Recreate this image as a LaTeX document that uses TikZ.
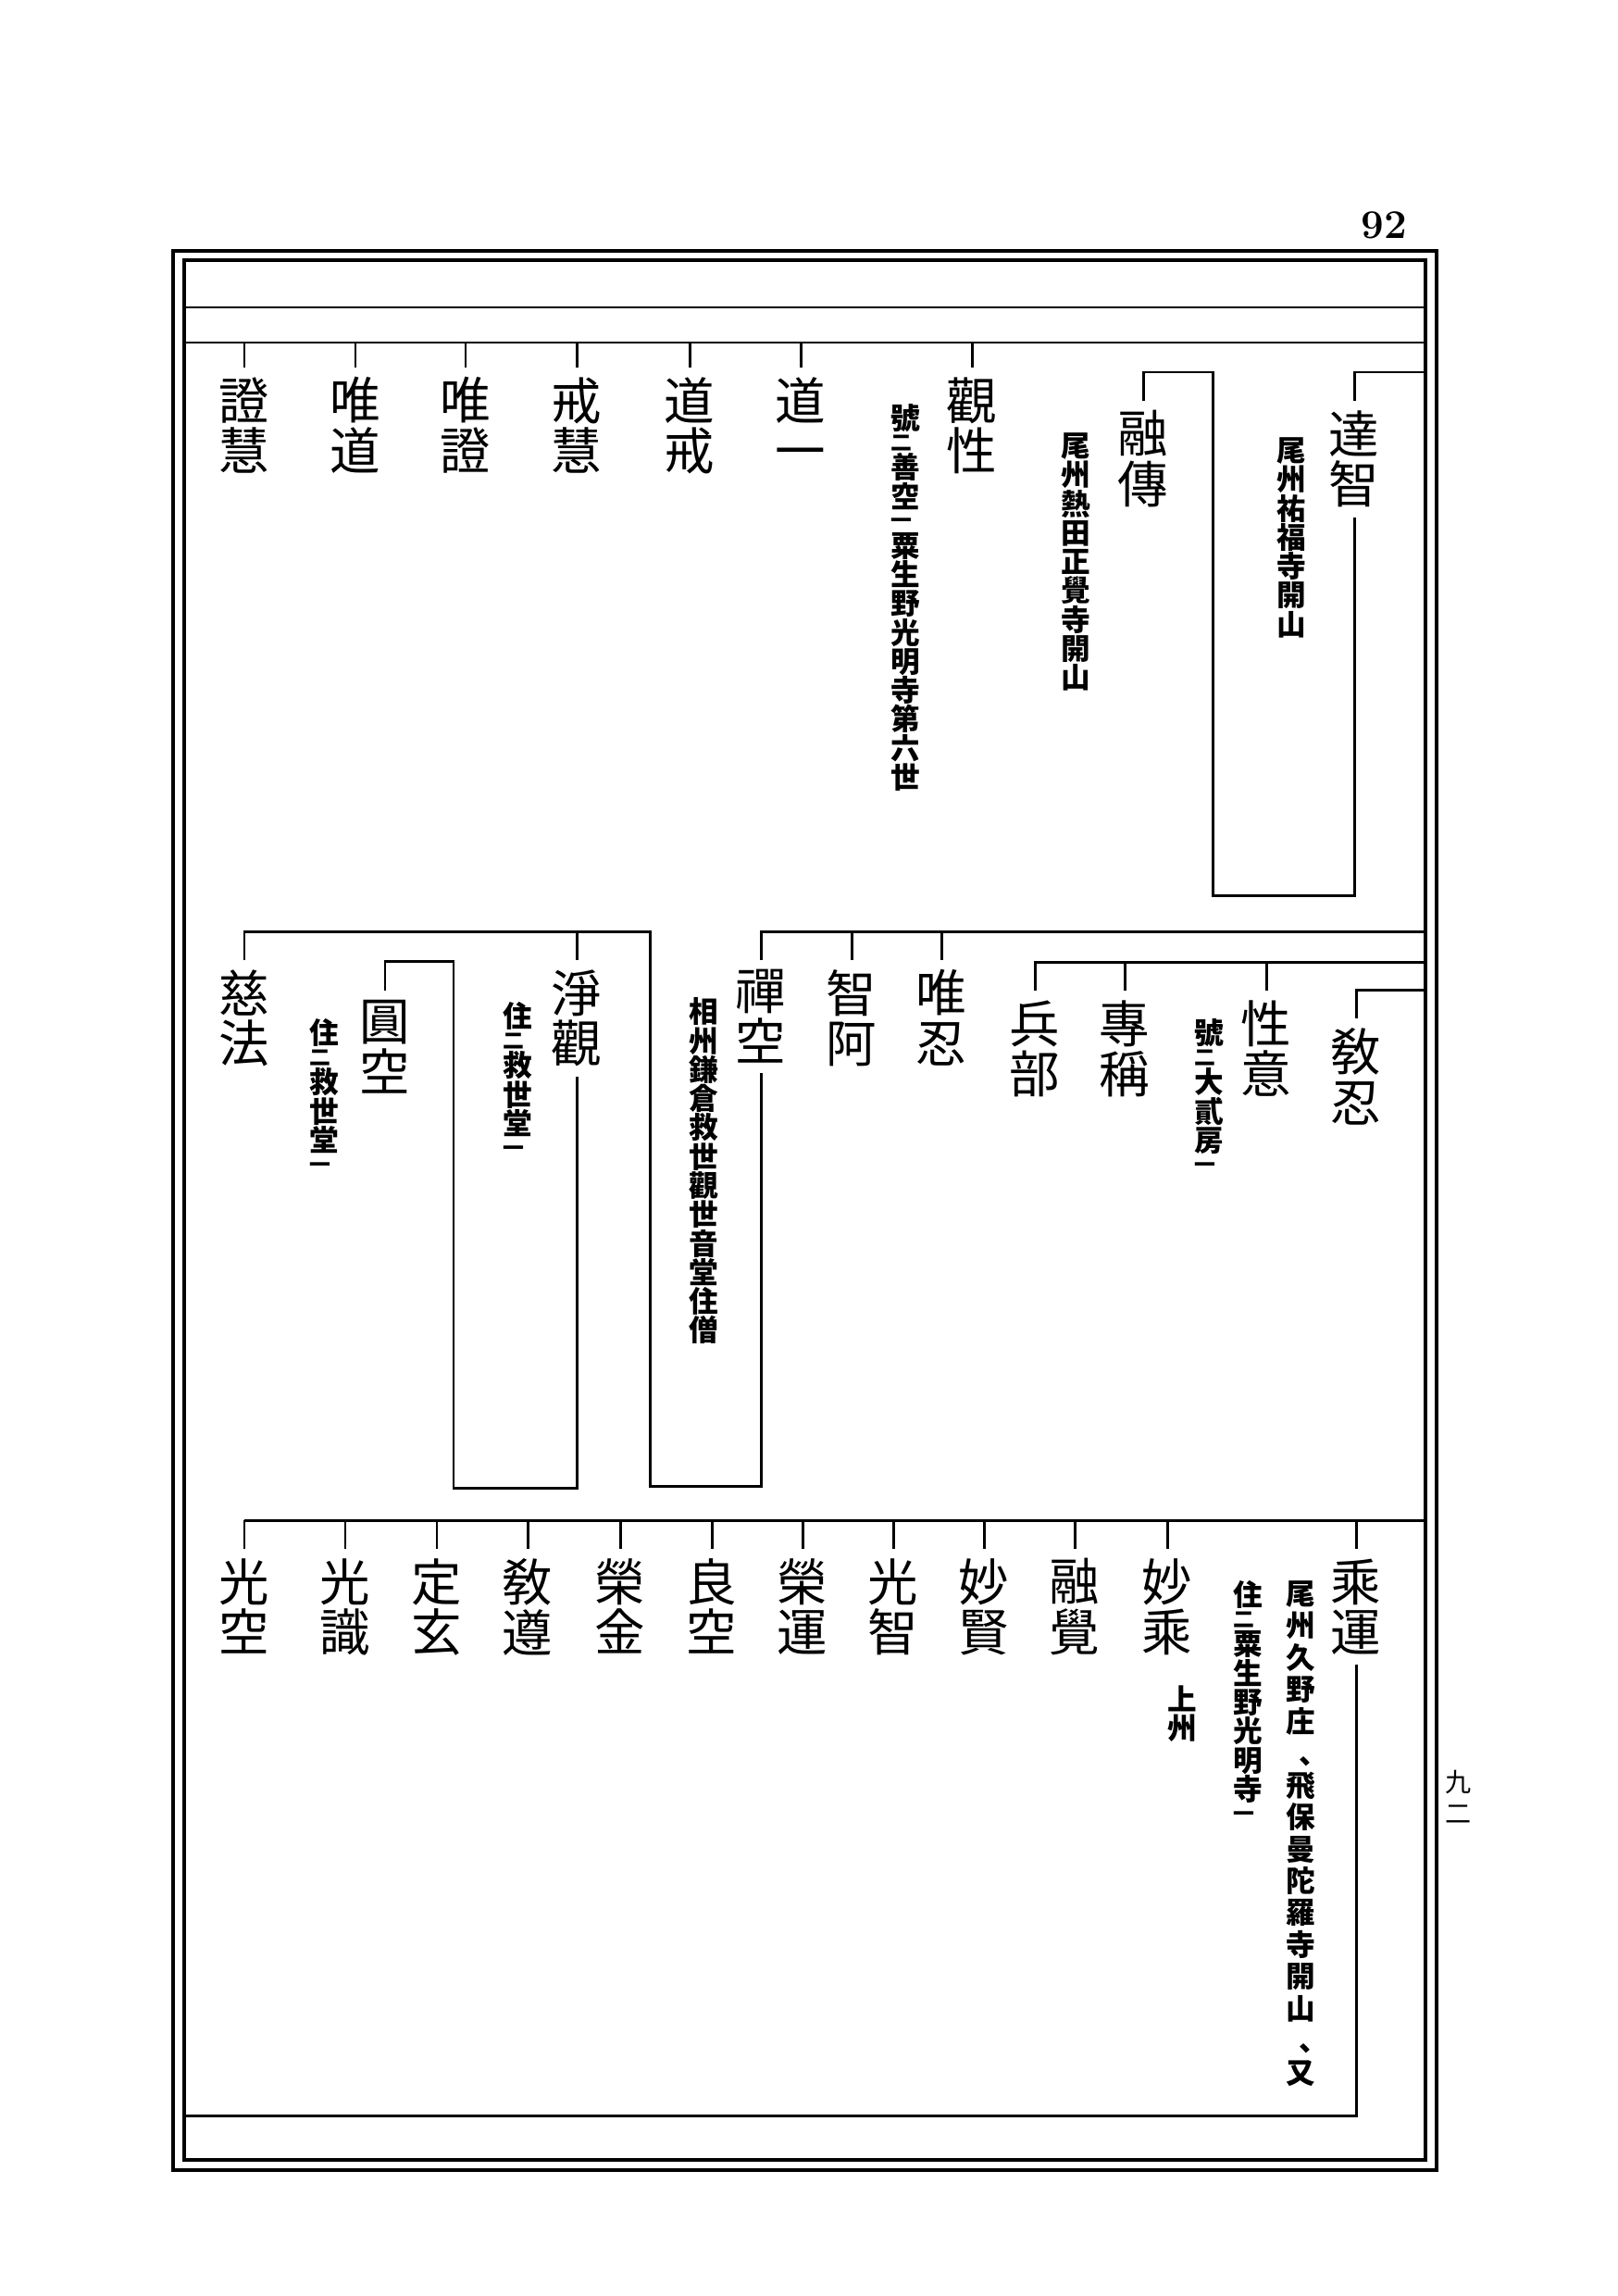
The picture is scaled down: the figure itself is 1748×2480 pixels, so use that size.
\documentclass[tikz,border=0pt]{standalone}
\usepackage{fontspec}
\newfontfamily\cjk{Noto Sans CJK JP}
\usepackage{tikz}
\usetikzlibrary{calc}

% small reading mark set at the left of a column
\newcommand{\kr}[1]{\makebox[1em][l]{\fontsize{6.5}{6.5}\selectfont #1}}
% comma for a vertical column
\newcommand{\vcomma}{\makebox[1em][l]{\hspace{0.45em}、}}

\tikzset{
  % names, one character per line
  namebox/.style={
    anchor=north, align=center,
    inner sep=0pt, outer sep=3pt,
    font=\cjk\fontsize{15.5}{15.5}\selectfont
  },
  % notes under a name
  notebox/.style={
    anchor=north, align=center, inner sep=0pt,
    font=\cjk\bfseries\fontsize{9}{8.9}\selectfont
  },
  notewide/.style={notebox, font=\cjk\bfseries\fontsize{9}{9.8}\selectfont},
  % lines
  treeline/.style={line width=0.85pt, black},
  frameline/.style={line width=0.9pt, black},
}

\begin{document}
\begin{tikzpicture}[x=0.1mm, y=-0.1mm]
  \useasboundingbox (0,0) rectangle (1748,2480);

  %% Frame
  \draw[frameline] (187,271) rectangle (1552,2344);
  \draw[frameline] (199,281) rectangle (1540,2333);

  \node[font=\fontsize{12.5}{12.5}\selectfont\bfseries]
    (pageno) at (1495,243) {92};
  \node[font=\cjk\fontsize{8}{9.5}\selectfont, align=center, anchor=north]
    (pagekanji) at (1576,1900) {九\\二};

  %% First row
  \coordinate (lineAw) at (199,332);
  \coordinate (lineAe) at (1540,332);
  \coordinate (bar1w) at (199,370);
  \coordinate (bar1e) at (1540,370);

  \node[namebox] (shoe) at (264,397) {證\\慧};
  \node[namebox] (yuido) at (384,397) {唯\\道};
  \node[namebox] (yuisho) at (503,397) {唯\\證};
  \node[namebox] (kaie) at (623,397) {戒\\慧};
  \node[namebox] (dokai) at (745,397) {道\\戒};
  \node[namebox] (doitsu) at (865,397) {道\\一};
  \node[namebox] (kansho) at (1050,397) {觀\\性};
  \node[namebox] (yuden) at (1235,433) {融\\傳};
  \node[namebox] (tacchi) at (1463,433) {達\\智};

  \node[notebox] (kanshoN) at (978,436)
    {號\\[-2.4pt]\kr{二}\\[-0.3pt]善\\空\\[-2.4pt]\kr{一}\\[-0.3pt]粟\\生\\野\\光\\明\\寺\\第\\六\\世};
  \node[notebox] (yudenN) at (1162,467) {尾\\州\\熱\\田\\正\\覺\\寺\\開\\山};
  \node[notebox] (tacchiN) at (1395,472) {尾\\州\\祐\\福\\寺\\開\\山};

  \draw[treeline] (lineAw) -- (lineAe);
  \draw[treeline] (bar1w) -- (bar1e);
  \draw[treeline] (shoe |- bar1w) -- (shoe) (yuido |- bar1w) -- (yuido)
    (yuisho |- bar1w) -- (yuisho) (kaie |- bar1w) -- (kaie)
    (dokai |- bar1w) -- (dokai) (doitsu |- bar1w) -- (doitsu)
    (kansho |- bar1w) -- (kansho);

  \coordinate (tacchiBar) at (1540,402);
  \coordinate (tacchiLoop) at (1310,967);
  \draw[treeline] (tacchiBar) -- (tacchi |- tacchiBar) -- (tacchi);
  \draw[treeline] (tacchi) -- (tacchi |- tacchiLoop) -- (tacchiLoop)
    -- (tacchiLoop |- tacchiBar) -- (yuden |- tacchiBar) -- (yuden);

  %% Second row
  \coordinate (bar2e) at (1540,1006);
  \coordinate (bar2b) at (1540,1039);
  \coordinate (bar2c) at (1540,1069);
  \coordinate (zenkuLoop) at (702,1605);
  \coordinate (enkuTop) at (490,1038);
  \coordinate (enkuLoop) at (490,1607);

  \node[namebox] (kyonin) at (1465,1100) {敎\\忍};
  \node[namebox] (shoi) at (1368,1070) {性\\意};
  \node[namebox] (sensho) at (1215,1070) {專\\稱};
  \node[namebox] (hyobu) at (1118,1070) {兵\\部};
  \node[namebox] (yuinin) at (1017,1037) {唯\\忍};
  \node[namebox] (chia) at (920,1037) {智\\阿};
  \node[namebox] (zenku) at (822,1037) {禪\\空};
  \node[namebox] (jokan) at (623,1037) {淨\\觀};
  \node[namebox] (enku) at (416,1070) {圓\\空};
  \node[namebox] (jiho) at (264,1037) {慈\\法};

  \node[notebox] (shoiN) at (1306,1100)
    {號\\[-2.4pt]\kr{二}\\[-0.3pt]大\\貳\\房\\[-2.4pt]\kr{一}};
  \node[notebox] (zenkuN) at (760,1077) {相\\州\\鎌\\倉\\救\\世\\觀\\世\\音\\堂\\住\\僧};
  \node[notebox] (jokanN) at (559,1082)
    {住\\[-2.4pt]\kr{二}\\[-0.3pt]救\\世\\堂\\[-2.4pt]\kr{一}};
  \node[notebox] (enkuN) at (350,1100)
    {住\\[-2.4pt]\kr{二}\\[-0.3pt]救\\世\\堂\\[-2.4pt]\kr{一}};

  \draw[treeline] (bar2e) -- (zenku |- bar2e) -- (zenku);
  \draw[treeline] (chia |- bar2e) -- (chia) (yuinin |- bar2e) -- (yuinin);
  \draw[treeline] (bar2b) -- (hyobu |- bar2b) -- (hyobu);
  \draw[treeline] (sensho |- bar2b) -- (sensho) (shoi |- bar2b) -- (shoi);
  \draw[treeline] (bar2c) -- (kyonin |- bar2c) -- (kyonin);

  \draw[treeline] (jiho) -- (jiho |- bar2e) -- (zenkuLoop |- bar2e)
    -- (zenkuLoop) -- (zenku |- zenkuLoop) -- (zenku);
  \draw[treeline] (jokan |- bar2e) -- (jokan);
  \draw[treeline] (jokan) -- (jokan |- enkuLoop) -- (enkuLoop)
    -- (enkuTop) -- (enku |- enkuTop) -- (enku);

  %% Third row
  \coordinate (bar3w) at (264,1642);
  \coordinate (bar3e) at (1540,1642);
  \coordinate (jounLoop) at (1465,2285);
  \coordinate (jounEnd) at (199,2285);

  \node[namebox] (joun) at (1465,1673) {乘\\運};
  \node[namebox] (myojo) at (1261,1673) {妙\\乘};
  \node[namebox] (yukaku) at (1161,1673) {融\\覺};
  \node[namebox] (myoken) at (1063,1673) {妙\\賢};
  \node[namebox] (kochi) at (965,1673) {光\\智};
  \node[namebox] (eiun) at (867,1673) {榮\\運};
  \node[namebox] (ryoku) at (769,1673) {良\\空};
  \node[namebox] (eikin) at (670,1673) {榮\\金};
  \node[namebox] (kyojun) at (570,1673) {敎\\遵};
  \node[namebox] (jogen) at (472,1673) {定\\玄};
  \node[namebox] (koshiki) at (373,1673) {光\\識};
  \node[namebox] (koku) at (264,1673) {光\\空};

  \node[notewide] (jounA) at (1405,1707)
    {尾\\州\\久\\野\\庄\\\vcomma\\飛\\保\\曼\\陀\\羅\\寺\\開\\山\\\vcomma\\又};
  \node[notebox] (jounB) at (1348,1707)
    {住\\[-2.4pt]\kr{二}\\[-0.3pt]粟\\生\\野\\光\\明\\寺\\[-2.4pt]\kr{一}};
  \node[notebox] (myojoN) at (1277,1820) {上\\州};

  \draw[treeline] (bar3w) -- (bar3e);
  \draw[treeline] (koku |- bar3w) -- (koku) (koshiki |- bar3w) -- (koshiki)
    (jogen |- bar3w) -- (jogen) (kyojun |- bar3w) -- (kyojun)
    (eikin |- bar3w) -- (eikin) (ryoku |- bar3w) -- (ryoku)
    (eiun |- bar3w) -- (eiun) (kochi |- bar3w) -- (kochi)
    (myoken |- bar3w) -- (myoken) (yukaku |- bar3w) -- (yukaku)
    (myojo |- bar3w) -- (myojo) (joun |- bar3w) -- (joun);
  \draw[treeline] (joun) -- (jounLoop) -- (jounEnd);

\end{tikzpicture}
\end{document}
